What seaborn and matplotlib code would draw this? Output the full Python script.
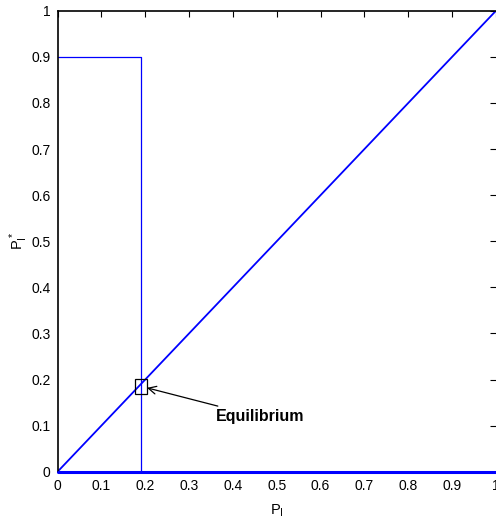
import matplotlib
matplotlib.use("Agg")
import matplotlib.pyplot as plt
from matplotlib.patches import Rectangle
import seaborn as sns
import pandas as pd

# best-response step and the 45-degree line
p_equilibrium = 0.19
step_x = [0.0, 0.19, 0.19, 1.0]
step_y = [0.9, 0.9, 0.0, 0.0]
diag_x = [0.0, 1.0]
diag_y = [0.0, 1.0]
ticks = [0, 0.1, 0.2, 0.3, 0.4, 0.5, 0.6, 0.7, 0.8, 0.9, 1]
tick_labels = ["0", "0.1", "0.2", "0.3", "0.4", "0.5", "0.6", "0.7", "0.8", "0.9", "1"]

sns.set_style("white")
plt.rcParams["font.family"] = ["Liberation Sans", "DejaVu Sans"]
plt.rcParams["mathtext.fontset"] = "custom"
plt.rcParams["mathtext.rm"] = "Liberation Sans"
plt.rcParams["mathtext.it"] = "Liberation Sans"
plt.rcParams["text.color"] = "black"
plt.rcParams["axes.labelcolor"] = "black"
plt.rcParams["xtick.color"] = "black"
plt.rcParams["ytick.color"] = "black"

fig = plt.figure(figsize=(4.96, 5.23), dpi=100)
ax = fig.add_axes([0.116, 0.098, 0.884, 0.8815])

step_df = pd.DataFrame({"x": step_x, "y": step_y})
diag_df = pd.DataFrame({"x": diag_x, "y": diag_y})
sns.lineplot(data=step_df, x="x", y="y", sort=False, estimator=None,
             color="#0000ff", linewidth=0.9, ax=ax)
sns.lineplot(data=diag_df, x="x", y="y", sort=False, estimator=None,
             color="#0000ff", linewidth=1.3, ax=ax)
# emphasise the zero segment on the bottom axis
ax.plot([0, 1], [0, 0], color="#0000ff", linewidth=2.2, clip_on=False, zorder=5)

# box around the equilibrium point
bw, bh = 0.027, 0.034
ax.add_patch(Rectangle((p_equilibrium - bw / 2, p_equilibrium - 0.005 - bh / 2), bw, bh,
                       fill=False, edgecolor="black", linewidth=0.9, zorder=6))
ax.annotate("Equilibrium", xy=(p_equilibrium + 0.014, p_equilibrium - 0.008),
            xytext=(0.36, 0.119), fontsize=11.5, fontweight="bold",
            va="center", ha="left",
            arrowprops=dict(arrowstyle="->", color="black", lw=0.9,
                            shrinkA=0, shrinkB=0, mutation_scale=14))

ax.set_xlim(0, 1)
ax.set_ylim(0, 1)
ax.set_xticks(ticks)
ax.set_xticklabels(tick_labels)
ax.set_yticks(ticks)
ax.set_yticklabels(tick_labels)
ax.tick_params(direction="in", length=4, width=0.8, labelsize=10,
               top=True, right=True, pad=5)
ax.set_xlabel("$P_I$", fontsize=10.5)
ax.set_ylabel("$P^*_I$", fontsize=10.5)
ax.xaxis.set_label_coords(0.5, -0.068)
ax.yaxis.set_label_coords(-0.062, 0.5)

for side in ["left", "top", "bottom"]:
    ax.spines[side].set_color("black")
    ax.spines[side].set_linewidth(1.2)
ax.spines["right"].set_visible(False)

fig.savefig("out.png", dpi=100)
